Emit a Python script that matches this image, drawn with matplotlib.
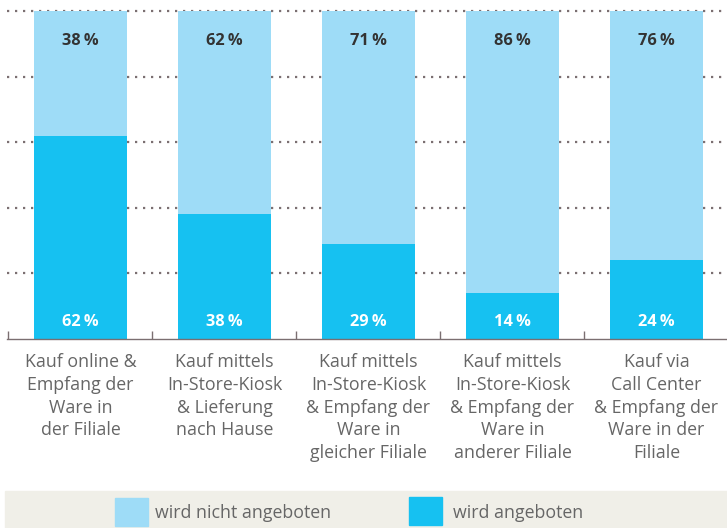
import matplotlib.pyplot as plt
from matplotlib.patches import Rectangle

plt.rcParams['font.family'] = ['Open Sans', 'DejaVu Sans']

categories = ["Kauf online &\nEmpfang der\nWare in\nder Filiale",
              "Kauf mittels\nIn-Store-Kiosk\n& Lieferung\nnach Hause",
              "Kauf mittels\nIn-Store-Kiosk\n& Empfang der\nWare in\ngleicher Filiale",
              "Kauf mittels\nIn-Store-Kiosk\n& Empfang der\nWare in\nanderer Filiale",
              "Kauf via\nCall Center\n& Empfang der\nWare in der\nFiliale"]
offered = [62, 38, 29, 14, 24]
not_offered = [38, 62, 71, 86, 76]
legend_labels = ["wird nicht angeboten", "wird angeboten"]

light = "#9edcf7"
dark = "#16c1f1"
grid_c = "#7b6f71"
text_c = "#666666"

fig = plt.figure(figsize=(7.27, 5.28), dpi=100)
ax = fig.add_axes([7 / 727, 1 - 339 / 528, 720 / 727, 328 / 528])

x = list(range(len(categories)))
ax.bar(x, offered, width=0.646, color=dark, zorder=3)
ax.bar(x, not_offered, bottom=offered, width=0.646, color=light, zorder=3)

for i in x:
    ax.text(i, 5.3, f"{offered[i]}\u2009%", ha="center", va="center",
            color="white", fontsize=11.8, fontweight="bold", zorder=4)
    ax.text(i, 91, f"{not_offered[i]}\u2009%", ha="center", va="center",
            color="#333333", fontsize=11.8, fontweight="bold", zorder=4)
    ax.text(i, -4.4, categories[i], ha="center", va="top", color=text_c,
            fontsize=12.8, linespacing=1.33)

ax.set_xlim(-0.51, 4.49)
ax.set_ylim(0, 100)
for yv in [20, 40, 60, 80, 100]:
    ax.axhline(yv, color=grid_c, linestyle=(0, (1, 2.6)), linewidth=1.6, zorder=1,
               clip_on=False)

ax.set_xticks([-0.5, 0.5, 1.5, 2.5, 3.5])
ax.set_xticklabels([])
ax.set_yticks([])
ax.tick_params(axis="x", direction="in", length=6, color=grid_c, width=1)
for s in ["top", "left", "right"]:
    ax.spines[s].set_visible(False)
ax.spines["bottom"].set_color(grid_c)
ax.spines["bottom"].set_linewidth(1)
ax.spines["bottom"].set_zorder(5)

# legend strip
fig.add_artist(Rectangle((5 / 727, 0), 722 / 727, 37 / 528,
                         transform=fig.transFigure, color="#f0efe8", zorder=0))
fig.add_artist(Rectangle((115 / 727, 2 / 528), 33 / 727, 28 / 528,
                         transform=fig.transFigure, color=light))
fig.add_artist(Rectangle((409 / 727, 3 / 528), 33 / 727, 28 / 528,
                         transform=fig.transFigure, color=dark))
fig.text(155 / 727, 15 / 528, legend_labels[0], color=text_c, fontsize=12.8,
         va="center", ha="left")
fig.text(453 / 727, 15 / 528, legend_labels[1], color=text_c, fontsize=12.8,
         va="center", ha="left")

fig.savefig("out.png", dpi=100)
